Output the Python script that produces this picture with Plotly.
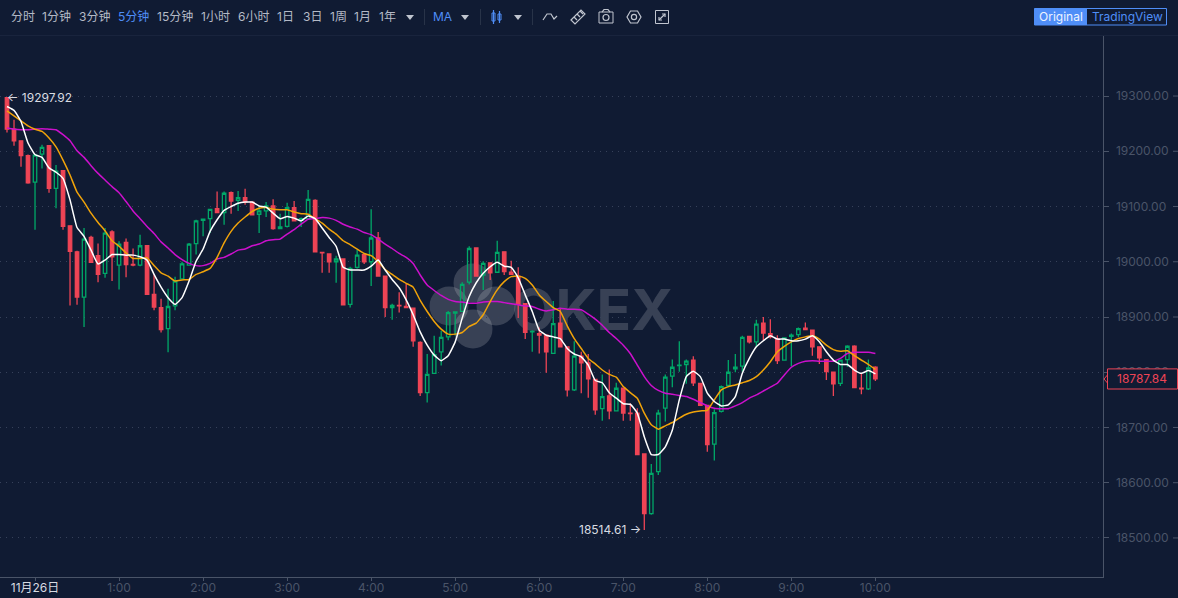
import pandas as pd
import plotly.graph_objects as go

W, H = 1178, 598
BG = "#101b33"
RED = "#ee4455"
GREEN = "#00a868"
BLUE = "#4f8ef7"
MUTED = "#4a5468"

start_time = "2020-11-25 23:40"

opens = [
    19297,19240,19219,19192,19144,19195,19210,19133,19165,19065,
    19018,18936,19044,19011,18979,19054,18994,19035,18995,18994,
    19029,18941,18917,18879,18920,18969,18994,19033,19075,19078,
    19096,19089,19125,19111,19116,19108,19086,19092,19101,19060,
    19064,19098,19075,19078,19111,19017,19014,19000,19005,18923,
    18990,19013,19000,19043,18974,18917,18921,18919,18916,18854,
    18763,18798,18837,18864,18907,18910,18963,19025,18976,18998,
    18981,19018,18981,18974,18924,18873,18870,18867,18834,18889,
    18846,18768,18829,18817,18787,18734,18757,18730,18771,18726,
    18726,18652,18544,18620,18735,18793,18812,18814,18822,18780,
    18740,18670,18729,18776,18806,18811,18865,18855,18889,18870,
    18861,18822,18865,18868,18880,18876,18846,18823,18800,18780,
    18823,18847,18771,18770,18809]
closes = [
    19240,19219,19192,19143,19193,19207,19133,19164,19064,19019,
    18936,19041,18999,18977,19052,19009,19032,18995,18994,19029,
    18941,18918,18877,18919,18965,18996,19032,19074,19077,19095,
    19089,19124,19110,19116,19108,19085,19092,19101,19060,19063,
    19098,19074,19078,19113,19018,19016,19000,19005,18922,18988,
    19012,19000,19043,18974,18917,18921,18920,18917,18857,18763,
    18796,18832,18863,18908,18909,18959,19024,18974,18997,18980,
    19017,18982,18977,18923,18872,18874,18867,18837,18888,18846,
    18768,18829,18817,18788,18732,18756,18730,18771,18726,18725,
    18651,18544,18617,18726,18791,18809,18813,18820,18781,18740,
    18669,18727,18774,18800,18809,18863,18855,18887,18871,18864,
    18821,18862,18867,18879,18877,18846,18826,18801,18779,18822,
    18847,18772,18770,18808,18787.84]
highs = [
    19297.92,19257,19220,19194,19194,19212,19211,19175,19166,19066,
    19020,19061,19047,19033,19061,19057,19037,19042,19024,19049,
    19029,18977,18933,18951,18973,19000,19034,19076,19077,19095,
    19127,19127,19127,19128,19132,19108,19100,19108,19113,19087,
    19107,19110,19080,19130,19113,19018,19015,19011,19005,18991,
    19022,19015,19095,19054,18974,18924,18945,18961,18916,18856,
    18833,18866,18875,18911,18909,18963,19028,19026,19001,18999,
    19038,19018,19002,18990,18924,18876,18881,18867,18929,18915,
    18846,18856,18837,18833,18787,18796,18805,18781,18771,18744,
    18735,18653,18634,18732,18796,18823,18856,18823,18829,18780,
    18740,18733,18776,18822,18833,18866,18865,18895,18900,18896,
    18867,18862,18870,18881,18890,18876,18846,18823,18800,18823,
    18849,18849,18798,18823,18811]
lows = [
    19234,19210,19172,19141,19058,19169,19125,19097,19058,18921,
    18922,18882,18998,18963,18971,18965,18950,18972,18992,18992,
    18941,18912,18872,18836,18912,18969,18993,19013,19046,19052,
    19088,19067,19087,19092,19103,19084,19052,19081,19058,19059,
    19062,19073,19063,19077,19017,18980,18980,18962,18921,18917,
    18988,18996,18956,18973,18900,18895,18908,18917,18846,18757,
    18745,18798,18812,18858,18867,18909,18959,18973,18949,18967,
    18980,18976,18977,18898,18860,18837,18834,18799,18833,18845,
    18756,18766,18762,18754,18723,18712,18715,18729,18712,18712,
    18651,18514.61,18542,18614,18711,18773,18801,18779,18775,18739,
    18656,18640,18727,18773,18800,18801,18852,18846,18858,18861,
    18815,18821,18811,18864,18876,18830,18815,18786,18757,18775,
    18810,18772,18760,18768,18784]
ma_white = [
    19281,19274,19254,19215,19194,19189,19170,19162,19151,19112,
    19062,19046,19021,18996,19003,19013,19013,19012,19012,19009,
    19003,18977,18954,18935,18923,18935,18965,19001,19023,19055,
    19076,19093,19100,19106,19108,19108,19101,19099,19088,19078,
    19082,19079,19074,19083,19078,19061,19044,19028,18990,18985,
    18985,18985,18992,19003,18985,18968,18953,18931,18904,18873,
    18849,18831,18821,18830,18855,18898,18937,18962,18979,18991,
    18999,18992,18990,18971,18940,18910,18876,18867,18864,18861,
    18843,18833,18828,18813,18785,18781,18763,18753,18743,18742,
    18726,18683,18651,18651,18665,18695,18750,18792,18802,18792,
    18762,18747,18739,18741,18756,18798,18825,18846,18857,18866,
    18860,18860,18857,18857,18860,18866,18855,18837,18822,18814,
    18814,18804,18798,18803,18797]
ma_gold = [
    19273,19264,19255,19246,19240,19236,19224,19208,19184,19157,
    19126,19108,19088,19071,19056,19038,19028,19016,19006,19006,
    19007,18993,18980,18974,18965,18967,18968,18977,18982,18988,
    19008,19034,19055,19070,19081,19091,19097,19098,19095,19094,
    19094,19090,19087,19086,19078,19070,19059,19050,19038,19031,
    19023,19015,19011,19000,18986,18977,18968,18961,18954,18930,
    18910,18892,18878,18869,18869,18872,18883,18889,18904,18928,
    18949,18964,18973,18974,18970,18958,18940,18928,18917,18910,
    18884,18861,18843,18825,18815,18804,18796,18791,18774,18763,
    18753,18726,18705,18697,18703,18709,18717,18724,18728,18730,
    18731,18750,18768,18774,18777,18781,18785,18792,18804,18819,
    18837,18847,18855,18861,18864,18866,18860,18849,18841,18838,
    18839,18830,18822,18814,18805]
ma_magenta = [
    19242,19240,19239,19239,19240,19241,19240,19239,19230,19219,
    19201,19189,19174,19160,19148,19136,19125,19109,19092,19078,
    19064,19051,19036,19025,19013,19004,18997,18993,18993,18997,
    19005,19008,19014,19021,19023,19029,19032,19038,19040,19041,
    19050,19058,19068,19077,19078,19080,19079,19075,19068,19063,
    19059,19053,19049,19041,19032,19024,19015,19008,18997,18976,
    18958,18948,18939,18932,18928,18927,18925,18925,18927,18928,
    18928,18926,18924,18922,18920,18919,18914,18911,18913,18916,
    18914,18914,18913,18905,18896,18885,18872,18861,18849,18834,
    18813,18792,18776,18767,18762,18760,18758,18756,18751,18745,
    18739,18735,18734,18734,18739,18745,18753,18759,18766,18773,
    18780,18795,18809,18816,18820,18821,18820,18820,18820,18825,
    18834,18836,18836,18836,18834]

y_ticks = [18500, 18600, 18700, 18800, 18900, 19000, 19100, 19200, 19300]
y_tick_labels = ["18500.00","18600.00","18700.00","18800.00","18900.00",
                 "19000.00","19100.00","19200.00","19300.00"]
x_ticks = ["2020-11-26 00:00","2020-11-26 01:00","2020-11-26 02:00","2020-11-26 03:00",
           "2020-11-26 04:00","2020-11-26 05:00","2020-11-26 06:00","2020-11-26 07:00",
           "2020-11-26 08:00","2020-11-26 09:00","2020-11-26 10:00"]
x_tick_labels = ["11月26日","1:00","2:00","3:00","4:00","5:00","6:00","7:00","8:00","9:00","10:00"]
menu_items = ["分时","1分钟","3分钟","5分钟","15分钟","1小时","6小时","1日","3日","1周","1月","1年"]
menu_left = [9,40,77,116,155,199,236,275,301,328,352,377]

last_price = 18787.84
high_price = 19297.92
low_price = 18514.61

times = pd.date_range(start_time, periods=len(opens), freq="5min")

FONT = "Inter, Roboto, sans-serif"
CJK = "Inter, 'Noto Sans CJK SC', sans-serif"

def px(x): return x / W
def py(y): return 1 - y / H

def path(points, close=False, color=None, fill=None, width=1.2):
    d = "M" + " L".join(f"{px(a):.5f},{py(b):.5f}" for a, b in points) + (" Z" if close else "")
    return dict(type="path", xref="paper", yref="paper", path=d, layer="above",
                line=dict(color=color or "rgba(0,0,0,0)", width=width),
                fillcolor=fill or "rgba(0,0,0,0)")

def rect(x0, y0, x1, y1, color=None, fill=None, width=1, layer="above"):
    return dict(type="rect", xref="paper", yref="paper", x0=px(x0), x1=px(x1), y0=py(y0), y1=py(y1),
                layer=layer, line=dict(color=color or "rgba(0,0,0,0)", width=width if color else 0),
                fillcolor=fill or "rgba(0,0,0,0)")

def circle(cx, cy, r, color=None, fill=None, width=1.2, layer="above"):
    return dict(type="circle", xref="paper", yref="paper", x0=px(cx-r), x1=px(cx+r),
                y0=py(cy+r), y1=py(cy-r), layer=layer,
                line=dict(color=color or "rgba(0,0,0,0)", width=width if color else 0),
                fillcolor=fill or "rgba(0,0,0,0)")

def text(x, y, s, color="#b4bac6", size=12, anchor="left", family=CJK):
    return dict(xref="paper", yref="paper", x=px(x), y=py(y), text=s, showarrow=False,
                xanchor=anchor, yanchor="middle", font=dict(color=color, size=size, family=family))

fig = go.Figure()
fig.add_trace(go.Candlestick(
    x=times, open=opens, high=highs, low=lows, close=closes, whiskerwidth=0,
    increasing=dict(line=dict(color=GREEN, width=1.3), fillcolor="rgba(0,0,0,0)"),
    decreasing=dict(line=dict(color=RED, width=1.3), fillcolor=RED),
    showlegend=False, hoverinfo="skip"))
for values, colour in ((ma_magenta, "#cc10cc"), (ma_gold, "#f0a30a"), (ma_white, "#ffffff")):
    fig.add_trace(go.Scatter(x=times, y=values, mode="lines", hoverinfo="skip", showlegend=False,
                             line=dict(color=colour, width=1.5, shape="spline", smoothing=0.4)))

shapes, annotations = [], []

# Watermark
wm = "rgba(255,255,255,0.17)"
for cx, cy in ((449, 306), (473, 283), (496, 306), (473, 329)):
    shapes.append(circle(cx, cy, 19.5, fill=wm, layer="below"))
shapes.append(dict(type="rect", xref="paper", yref="paper", x0=px(505), x1=px(680), y0=py(340), y1=py(275),
                   layer="below", line=dict(width=0), fillcolor="rgba(0,0,0,0)",
                   label=dict(text="<b>OKEX</b>", textposition="middle center",
                              font=dict(color=wm, size=57, family="Inter, sans-serif"))))

# Toolbar
shapes.append(rect(0, 35, W, 36, fill="#19243d"))
for s, x in zip(menu_items, menu_left):
    annotations.append(text(x, 17, s, BLUE if s == "5分钟" else "#b4bac6"))
shapes.append(path([(406, 15), (414, 15), (410, 20)], True, fill="#c0c5cf"))
shapes.append(rect(424, 9, 424.6, 25, fill="#3a4558"))
annotations.append(text(431, 17, "MA", BLUE))
shapes.append(path([(461, 15), (469, 15), (465, 20)], True, fill="#c0c5cf"))
shapes.append(rect(480, 9, 480.6, 25, fill="#3a4558"))
shapes.append(rect(492, 13, 495, 21, color=BLUE))
shapes.append(path([(493.5, 10), (493.5, 24)], color=BLUE))
shapes.append(rect(498, 14, 501, 20, color=BLUE))
shapes.append(path([(499.5, 11), (499.5, 23)], color=BLUE))
shapes.append(path([(514, 15), (522, 15), (518, 20)], True, fill="#c0c5cf"))
shapes.append(rect(532, 9, 532.6, 25, fill="#3a4558"))
ic = "#c0c5cf"
shapes.append(path([(543, 20), (547, 14), (551, 14), (554, 19), (557, 16)], color=ic))
shapes.append(path([(571, 20), (581, 10), (585, 14), (575, 24)], True, color=ic))
for a, b in ((574, 17), (577, 14), (580, 11)):
    shapes.append(path([(a, b), (a+3, b+3)], color=ic))
shapes.append(rect(599, 12, 613, 23, color=ic))
shapes.append(path([(602, 12), (604, 9.5), (608, 9.5), (610, 12)], color=ic))
shapes.append(circle(606, 17.5, 3, color=ic))
shapes.append(path([(641, 17), (637.5, 23), (630.5, 23), (627, 17), (630.5, 11), (637.5, 11)], True, color=ic))
shapes.append(circle(634, 17, 2.6, color=ic))
shapes.append(rect(655.5, 10.5, 668.5, 23.5, color=ic))
shapes.append(path([(659, 20), (665, 14)], color=ic))
shapes.append(path([(662, 14), (665, 14), (665, 17)], color=ic))
shapes.append(path([(659, 17), (659, 20), (662, 20)], color=ic))

# Original / TradingView switch
shapes.append(rect(1034.5, 8.5, 1166.5, 25, color=BLUE))
shapes.append(rect(1034.5, 8.5, 1087, 25, fill=BLUE))
annotations.append(text(1060.5, 16.5, "Original", "#eef3ff", anchor="center", family=FONT))
annotations.append(text(1127, 16.5, "TradingView", BLUE, anchor="center", family=FONT))

# Right-hand tick marks on the price axis
for v in y_ticks:
    shapes.append(dict(type="line", xref="paper", yref="y", x0=px(1173), x1=1, y0=v, y1=v,
                       layer="above", line=dict(color=MUTED, width=1)))

# High and low labels
annotations.append(dict(xref="x", yref="y", x=times[0], y=high_price, text="← " + f"{high_price:.2f}",
                        showarrow=False, xanchor="left", yanchor="middle", xshift=-2,
                        font=dict(color="#d8dbe2", size=12, family=FONT)))
low_index = lows.index(low_price)
annotations.append(dict(xref="x", yref="y", x=times[low_index], y=low_price, text=f"{low_price:.2f} →",
                        showarrow=False, xanchor="right", yanchor="middle", xshift=-1,
                        font=dict(color="#d8dbe2", size=12, family=FONT)))

# Last price tag
shapes.append(dict(type="rect", xref="paper", yref="y", x0=px(1107.5), x1=px(1177.5),
                   y0=last_price - 18.2, y1=last_price + 18.2, layer="above",
                   line=dict(color=RED, width=1), fillcolor=BG))
shapes.append(dict(type="path", xref="paper", yref="paper", layer="above",
                   path=f"M{px(1107.5):.5f},{py(375):.5f} L{px(1104):.5f},{py(379):.5f} L{px(1107.5):.5f},{py(383):.5f}",
                   line=dict(color=RED, width=1), fillcolor="rgba(0,0,0,0)"))
annotations.append(dict(xref="paper", yref="y", x=px(1141.5), y=last_price, text=f"{last_price:.2f}",
                        showarrow=False, xanchor="center", yanchor="middle",
                        font=dict(color=RED, size=12, family=FONT)))

tick_text = [f'<span style="color:#d8dbe2">{t}</span>' if "月" in t else t for t in x_tick_labels]

fig.update_layout(
    width=W, height=H, autosize=False,
    margin=dict(l=0, r=0, t=0, b=0),
    paper_bgcolor=BG, plot_bgcolor=BG,
    showlegend=False, shapes=shapes, annotations=annotations,
    hovermode=False, dragmode=False,
    xaxis=dict(type="date", domain=[0, 1102.5 / W], range=["2020-11-25 23:35:00", "2020-11-26 12:42:09"],
               rangeslider=dict(visible=False), tickmode="array", tickvals=x_ticks, ticktext=tick_text,
               ticks="outside", ticklen=3, tickcolor=MUTED, ticklabelstandoff=-3,
               tickfont=dict(color=MUTED, size=12, family=CJK),
               showgrid=False, zeroline=False, showline=True, linecolor=MUTED, linewidth=1),
    yaxis=dict(domain=[(H - 577) / H, (H - 36) / H], range=[18429.3, 19408.7], side="right",
               anchor="x", tickmode="array", tickvals=y_ticks, ticktext=y_tick_labels,
               ticks="outside", ticklen=5, tickcolor=MUTED, ticklabelstandoff=5,
               tickfont=dict(color=MUTED, size=12, family=FONT),
               showgrid=True, gridcolor="#36415a", griddash="1px,5px", gridwidth=1,
               zeroline=False, showline=True, linecolor=MUTED, linewidth=1),
)

fig.write_html("out.html", config=dict(displayModeBar=False),
               post_script="document.body.style.margin='0';document.body.style.overflow='hidden';document.body.style.background='" + BG + "';")
